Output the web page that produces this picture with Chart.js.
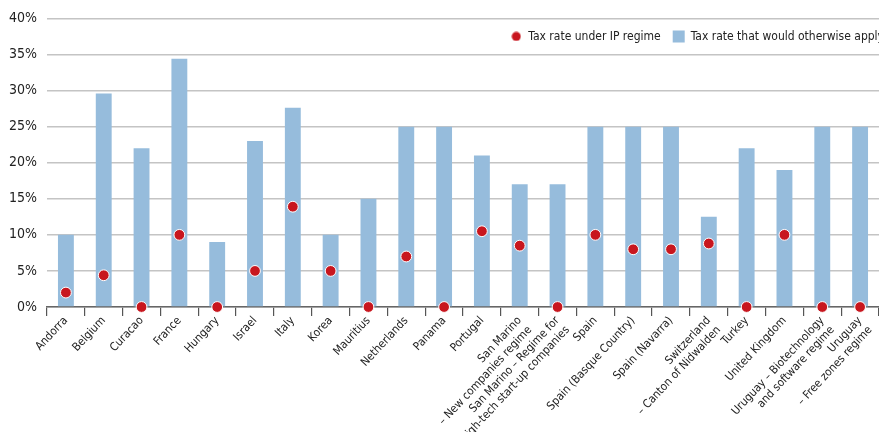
<!DOCTYPE html>
<html lang="en">
<head>
  <meta charset="utf-8"/>
  <title>IP regime tax rates</title>
  <script src="https://cdn.jsdelivr.net/npm/chart.js"></script>
  <style>
    html, body { margin: 0; padding: 0; background: #fff; }
    #wrap { width: 879px; height: 432px; position: relative; }
  </style>
</head>
<body>
  <div id="wrap"><canvas id="taxChart"></canvas></div>

  <script>
    // ── DATA ─────────────────────────────────────────
    const categories = [
      'Andorra', 'Belgium', 'Curacao', 'France', 'Hungary', 'Israel', 'Italy',
      'Korea', 'Mauritius', 'Netherlands', 'Panama', 'Portugal',
      ['San Marino', '– New companies regime'],
      ['San Marino – Regime for', 'high-tech start-up companies'],
      'Spain', 'Spain (Basque Country)', 'Spain (Navarra)',
      ['Switzerland', '– Canton of Nidwalden'],
      'Turkey', 'United Kingdom',
      ['Uruguay – Biotechnology', 'and software regime'],
      ['Uruguay', '– Free zones regime']
    ];
    const ipRate = [2, 4.4, 0, 10, 0, 5, 13.9, 5, 0, 7, 0, 10.5, 8.5, 0, 10, 8, 8, 8.8, 0, 10, 0, 0];
    const otherwiseRate = [10, 29.6, 22, 34.4, 9, 23, 27.6, 10, 15, 25, 25, 21, 17, 17, 25, 25, 25, 12.5, 22, 19, 25, 25];
    const yTicks = [0, 5, 10, 15, 20, 25, 30, 35, 40];
    // ─────────────────────────────────────────────────

    const RED = '#c8161e';
    const BLUE = '#96bcdc';
    const FONT = "'Liberation Sans Narrow', 'DejaVu Sans Condensed', sans-serif";

    // small round icon for the legend
    const dotIcon = document.createElement('canvas');
    dotIcon.width = 10; dotIcon.height = 10;
    const dctx = dotIcon.getContext('2d');
    dctx.fillStyle = RED;
    dctx.beginPath(); dctx.arc(5, 5, 4.5, 0, Math.PI * 2); dctx.fill();

    // legend takes no room above the plot (it sits over the top of the chart area),
    // but gets its real height back before drawing so it isn't clipped away.
    // It is also pushed a little past the right edge, as in the original.
    const flatLegend = {
      id: 'flatLegend',
      afterInit(chart) {
        const leg = chart.legend;
        if (!leg) return;
        const origFit = leg.fit;
        leg.fit = function() { origFit.call(this); this._realH = this.height; this.height = 0; };
      },
      afterLayout(chart) {
        const leg = chart.legend;
        if (!leg || !leg._realH) return;
        leg.height = leg._realH;
        leg.bottom = leg.top + leg._realH;
        leg.right += 17;
        leg.width += 17;
      }
    };

    const ctx = document.getElementById('taxChart').getContext('2d');
    new Chart(ctx, {
      type: 'bar',
      data: {
        labels: categories,
        datasets: [
          {
            type: 'line',
            label: 'Tax rate under IP regime',
            data: ipRate,
            showLine: false,
            pointRadius: 5.4,
            pointHoverRadius: 5.4,
            pointBackgroundColor: RED,
            pointBorderColor: '#ffffff',
            pointBorderWidth: 1,
            clip: false
          },
          {
            label: 'Tax rate that would otherwise apply',
            data: otherwiseRate,
            backgroundColor: BLUE,
            barPercentage: 0.42,
            categoryPercentage: 1.0
          }
        ]
      },
      plugins: [flatLegend],
      options: {
        responsive: true,
        maintainAspectRatio: false,
        animation: false,
        layout: { autoPadding: false, padding: { top: 18, right: 0, left: 0, bottom: 0 } },
        plugins: {
          tooltip: { enabled: false },
          legend: {
            position: 'top',
            align: 'end',
            labels: {
              usePointStyle: true,
              boxWidth: 13,
              boxHeight: 13,
              padding: 12,
              color: '#222',
              font: { family: FONT, size: 12 },
              generateLabels(chart) {
                const items = Chart.defaults.plugins.legend.labels.generateLabels(chart);
                items[0].pointStyle = dotIcon;
                items[1].pointStyle = 'rect';
                items.forEach(it => { it.lineWidth = 0; it.strokeStyle = 'rgba(0,0,0,0)'; });
                return items;
              }
            }
          }
        },
        scales: {
          x: {
            offset: true,
            grid: {
              display: true,
              offset: true,
              drawOnChartArea: false,
              drawTicks: true,
              tickLength: 9,
              color: '#555',
              lineWidth: 1.2
            },
            border: { display: true, color: '#666', width: 1.5 },
            ticks: {
              autoSkip: false,
              minRotation: 47,
              maxRotation: 47,
              padding: -2,
              color: '#222',
              font: { family: FONT, size: 11.5 }
            },
            afterFit(scale) {
              scale.height = 125;
              scale.paddingRight = 0;
            }
          },
          y: {
            min: 0,
            max: 40,
            afterBuildTicks(scale) { scale.ticks = yTicks.map(v => ({ value: v })); },
            grid: {
              color: '#c4c4c4',
              lineWidth: 1.5,
              drawTicks: false
            },
            border: { display: false },
            ticks: {
              padding: 10,
              color: '#222',
              font: { family: FONT, size: 14 },
              callback: v => v + '%'
            },
            afterFit(scale) { scale.width = 47; }
          }
        }
      }
    });
  </script>
</body>
</html>
